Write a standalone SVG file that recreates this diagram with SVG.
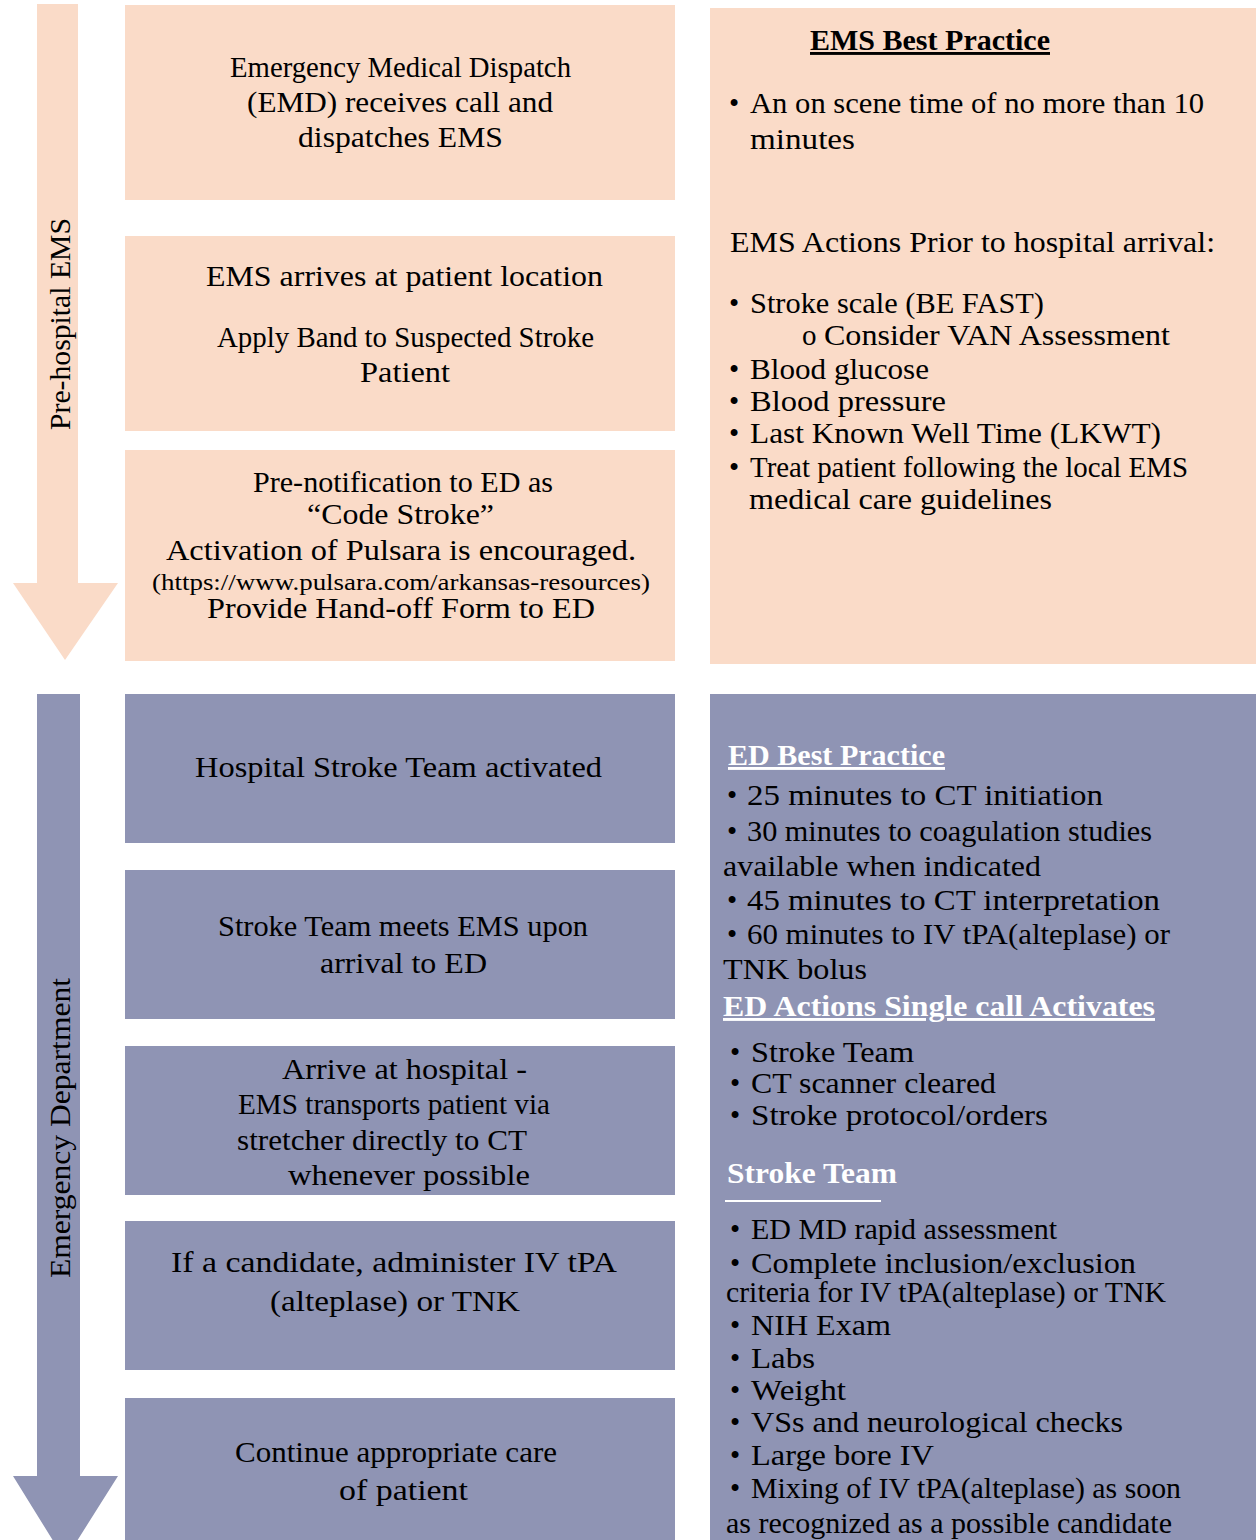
<svg xmlns="http://www.w3.org/2000/svg" width="1256" height="1540" viewBox="0 0 1256 1540">
<style>
.pe{fill:#FADBC8}
.bl{fill:#8F94B4}
text{font-family:"Liberation Serif","DejaVu Serif",serif;fill:#000}
.c{text-anchor:middle;font-size:29px}
.r{font-size:29px}
.s{font-size:24px}
.h{font-weight:bold;font-size:29px}
.w{fill:#fff}
.v{font-size:30px;text-anchor:middle}
</style>
<g id="lanes">
<g id="lane-prehospital">
<polygon class="pe" points="37,4 78,4 78,583 118,583 65,660 13,583 37,583"/>
<text class="v" transform="translate(70,324) rotate(-90)" textLength="212" lengthAdjust="spacingAndGlyphs">Pre-hospital EMS</text>
</g>
<g id="lane-ed">
<polygon class="bl" points="37,694 80,694 80,1476 118,1476 65,1560 13,1476 37,1476"/>
<text class="v" transform="translate(70,1128) rotate(-90)" textLength="300" lengthAdjust="spacingAndGlyphs">Emergency  Department</text>
</g>
</g>
<g id="connectors"></g>
<g id="n1"><rect class="pe" x="125" y="5" width="550" height="195"/>
<text class="c" x="400.5" y="77" textLength="341" lengthAdjust="spacingAndGlyphs">Emergency Medical Dispatch</text>
<text class="c" x="400" y="112" textLength="306" lengthAdjust="spacingAndGlyphs">(EMD) receives call and</text>
<text class="c" x="400.5" y="147" textLength="205" lengthAdjust="spacingAndGlyphs">dispatches EMS</text></g>
<g id="n2"><rect class="pe" x="125" y="236" width="550" height="195"/>
<text class="c" x="404.5" y="286" textLength="397" lengthAdjust="spacingAndGlyphs">EMS arrives at patient location</text>
<text class="c" x="405.5" y="347" textLength="377" lengthAdjust="spacingAndGlyphs">Apply Band to Suspected Stroke</text>
<text class="c" x="405" y="382" textLength="90" lengthAdjust="spacingAndGlyphs">Patient</text></g>
<g id="n3"><rect class="pe" x="125" y="450" width="550" height="211"/>
<text class="c" x="403" y="492" textLength="300" lengthAdjust="spacingAndGlyphs">Pre-notification to ED as</text>
<text class="c" x="400.5" y="524" textLength="187" lengthAdjust="spacingAndGlyphs">“Code Stroke”</text>
<text class="c" x="401" y="560" textLength="470" lengthAdjust="spacingAndGlyphs">Activation of Pulsara is encouraged.</text>
<text class="c s" x="401" y="590" textLength="498" lengthAdjust="spacingAndGlyphs">(https://www.pulsara.com/arkansas-resources)</text>
<text class="c" x="401" y="618" textLength="388" lengthAdjust="spacingAndGlyphs">Provide Hand-off Form to ED</text></g>
<g id="n4"><rect class="bl" x="125" y="694" width="550" height="149"/>
<text class="c" x="398.5" y="777" textLength="407" lengthAdjust="spacingAndGlyphs">Hospital Stroke Team activated</text></g>
<g id="n5"><rect class="bl" x="125" y="870" width="550" height="149"/>
<text class="c" x="403" y="936" textLength="370" lengthAdjust="spacingAndGlyphs">Stroke Team meets EMS upon</text>
<text class="c" x="403.5" y="973" textLength="167" lengthAdjust="spacingAndGlyphs">arrival to ED</text></g>
<g id="n6"><rect class="bl" x="125" y="1046" width="550" height="149"/>
<text class="c" x="404.5" y="1079" textLength="245" lengthAdjust="spacingAndGlyphs">Arrive at hospital -</text>
<text class="c" x="394" y="1114" textLength="312" lengthAdjust="spacingAndGlyphs">EMS transports patient via</text>
<text class="c" x="382" y="1150" textLength="290" lengthAdjust="spacingAndGlyphs">stretcher directly to CT</text>
<text class="c" x="409" y="1185" textLength="242" lengthAdjust="spacingAndGlyphs">whenever possible</text></g>
<g id="n7"><rect class="bl" x="125" y="1221" width="550" height="149"/>
<text class="c" x="394" y="1272" textLength="446" lengthAdjust="spacingAndGlyphs">If a candidate, administer IV tPA</text>
<text class="c" x="395" y="1311" textLength="250" lengthAdjust="spacingAndGlyphs">(alteplase) or TNK</text></g>
<g id="n8"><rect class="bl" x="125" y="1398" width="550" height="142"/>
<text class="c" x="396" y="1462" textLength="322" lengthAdjust="spacingAndGlyphs">Continue appropriate care</text>
<text class="c" x="403.5" y="1500" textLength="129" lengthAdjust="spacingAndGlyphs">of patient</text></g>
<g id="ems-best-practice"><rect class="pe" x="710" y="8" width="546" height="656"/>
<text class="h" x="810" y="50" text-decoration="underline" textLength="240" lengthAdjust="spacingAndGlyphs">EMS Best Practice</text>
<text class="r" x="729" y="113">•</text><text class="r" x="750" y="113" textLength="454" lengthAdjust="spacingAndGlyphs">An on scene time of no more than 10</text>
<text class="r" x="750" y="149" textLength="105" lengthAdjust="spacingAndGlyphs">minutes</text>
<text class="r" x="730" y="252" textLength="485" lengthAdjust="spacingAndGlyphs">EMS Actions Prior to hospital arrival:</text>
<text class="r" x="729" y="313">•</text><text class="r" x="750" y="313" textLength="294" lengthAdjust="spacingAndGlyphs">Stroke scale (BE FAST)</text>
<text class="r" x="802" y="345" font-size="20px">o</text><text class="r" x="824" y="345" textLength="346" lengthAdjust="spacingAndGlyphs">Consider VAN Assessment</text>
<text class="r" x="729" y="379">•</text><text class="r" x="750" y="379" textLength="179" lengthAdjust="spacingAndGlyphs">Blood glucose</text>
<text class="r" x="729" y="411">•</text><text class="r" x="750" y="411" textLength="196" lengthAdjust="spacingAndGlyphs">Blood  pressure</text>
<text class="r" x="729" y="443">•</text><text class="r" x="750" y="443" textLength="411" lengthAdjust="spacingAndGlyphs">Last Known Well Time (LKWT)</text>
<text class="r" x="729" y="477">•</text><text class="r" x="750" y="477" textLength="438" lengthAdjust="spacingAndGlyphs">Treat patient following the local EMS</text>
<text class="r" x="749" y="509" textLength="303" lengthAdjust="spacingAndGlyphs">medical care guidelines</text></g>
<g id="ed-best-practice"><rect class="bl" x="710" y="694" width="546" height="846"/>
<text class="h w" x="728" y="765" text-decoration="underline" textLength="217" lengthAdjust="spacingAndGlyphs">ED Best Practice</text>
<text class="r" x="727" y="805">•</text><text class="r" x="747" y="805" textLength="356" lengthAdjust="spacingAndGlyphs">25 minutes to CT  initiation</text>
<text class="r" x="727" y="841">•</text><text class="r" x="747" y="841" textLength="405" lengthAdjust="spacingAndGlyphs">30 minutes to coagulation studies</text>
<text class="r" x="723" y="876" textLength="318" lengthAdjust="spacingAndGlyphs">available when indicated</text>
<text class="r" x="727" y="910">•</text><text class="r" x="747" y="910" textLength="413" lengthAdjust="spacingAndGlyphs">45 minutes to CT interpretation</text>
<text class="r" x="727" y="944">•</text><text class="r" x="747" y="944" textLength="423" lengthAdjust="spacingAndGlyphs">60 minutes to IV tPA(alteplase) or</text>
<text class="r" x="723" y="979" textLength="144" lengthAdjust="spacingAndGlyphs">TNK bolus</text>
<text class="h w" x="723" y="1016" text-decoration="underline" textLength="432" lengthAdjust="spacingAndGlyphs">ED Actions Single call Activates</text>
<text class="r" x="730" y="1062">•</text><text class="r" x="751" y="1062" textLength="163" lengthAdjust="spacingAndGlyphs">Stroke Team</text>
<text class="r" x="730" y="1093">•</text><text class="r" x="751" y="1093" textLength="245" lengthAdjust="spacingAndGlyphs">CT scanner cleared</text>
<text class="r" x="730" y="1125">•</text><text class="r" x="751" y="1125" textLength="297" lengthAdjust="spacingAndGlyphs">Stroke  protocol/orders</text>
<text class="h w" x="727" y="1183" textLength="170" lengthAdjust="spacingAndGlyphs">Stroke Team</text>
<line x1="725" y1="1201" x2="881" y2="1201" stroke="#fff" stroke-width="2"/>
<text class="r" x="730" y="1239">•</text><text class="r" x="751" y="1239" textLength="306" lengthAdjust="spacingAndGlyphs">ED MD rapid assessment</text>
<text class="r" x="730" y="1273">•</text><text class="r" x="751" y="1273" textLength="385" lengthAdjust="spacingAndGlyphs">Complete inclusion/exclusion</text>
<text class="r" x="726" y="1302" textLength="440" lengthAdjust="spacingAndGlyphs">criteria for IV tPA(alteplase) or TNK</text>
<text class="r" x="730" y="1335">•</text><text class="r" x="751" y="1335" textLength="140" lengthAdjust="spacingAndGlyphs">NIH Exam</text>
<text class="r" x="730" y="1368">•</text><text class="r" x="751" y="1368" textLength="64" lengthAdjust="spacingAndGlyphs">Labs</text>
<text class="r" x="730" y="1400">•</text><text class="r" x="751" y="1400" textLength="95" lengthAdjust="spacingAndGlyphs">Weight</text>
<text class="r" x="730" y="1432">•</text><text class="r" x="751" y="1432" textLength="372" lengthAdjust="spacingAndGlyphs">VSs and neurological checks</text>
<text class="r" x="730" y="1465">•</text><text class="r" x="751" y="1465" textLength="183" lengthAdjust="spacingAndGlyphs">Large bore  IV</text>
<text class="r" x="730" y="1498">•</text><text class="r" x="751" y="1498" textLength="430" lengthAdjust="spacingAndGlyphs">Mixing of IV tPA(alteplase) as soon</text>
<text class="r" x="726" y="1533" textLength="446" lengthAdjust="spacingAndGlyphs">as recognized as a possible candidate</text></g>
</svg>
